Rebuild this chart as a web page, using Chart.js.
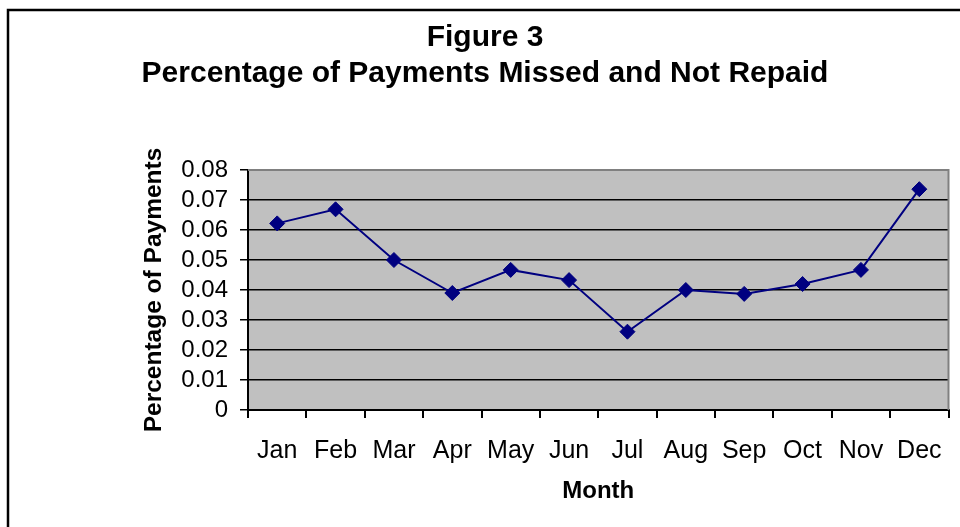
<!DOCTYPE html>
<html>
<head>
<meta charset="utf-8">
<script src="https://cdn.jsdelivr.net/npm/chart.js@4/dist/chart.umd.min.js"></script>
<style>
  html, body { margin: 0; padding: 0; background: #fff; }
  #wrap { width: 960px; height: 527px; }
</style>
</head>
<body>
<div id="wrap"><canvas id="missedChart" width="960" height="527"></canvas></div>
<script>
const months = ['Jan', 'Feb', 'Mar', 'Apr', 'May', 'Jun', 'Jul', 'Aug', 'Sep', 'Oct', 'Nov', 'Dec'];
const missedPct = [0.0622, 0.0669, 0.0500, 0.0390, 0.0467, 0.0433, 0.0261, 0.0400, 0.0387, 0.0420, 0.0467, 0.0736];
const titleLines = ['Figure 3', 'Percentage of Payments Missed and Not Repaid'];
const yTitle = 'Percentage of Payments';
const xTitle = 'Month';

const FONT = "'Liberation Sans', Arial, sans-serif";

// frame, grey plot background and chart title
const framePlugin = {
    id: 'frame',
    beforeDraw(chart) {
        const { ctx, chartArea: a } = chart;
        ctx.save();
        ctx.fillStyle = '#fff';
        ctx.fillRect(0, 0, chart.width, chart.height);
        ctx.fillStyle = '#C0C0C0';
        ctx.fillRect(a.left, a.top, a.right - a.left, a.bottom - a.top);
        ctx.strokeStyle = '#000';
        ctx.lineWidth = 2.5;
        ctx.beginPath();
        ctx.moveTo(8, chart.height);
        ctx.lineTo(8, 10);
        ctx.lineTo(chart.width, 10);
        ctx.stroke();
        ctx.restore();
    },
    afterDraw(chart) {
        const { ctx, chartArea: a } = chart;
        ctx.save();
        ctx.strokeStyle = '#808080';
        ctx.lineWidth = 2;
        ctx.beginPath();
        ctx.moveTo(a.left, a.top);
        ctx.lineTo(a.right, a.top);
        ctx.lineTo(a.right, a.bottom);
        ctx.stroke();
        ctx.fillStyle = '#000';
        ctx.font = 'bold 30px ' + FONT;
        ctx.textAlign = 'center';
        ctx.textBaseline = 'middle';
        ctx.fillText(titleLines[0], 485, 38);
        ctx.fillText(titleLines[1], 485, 74);
        ctx.restore();
    }
};

const ctx = document.getElementById('missedChart').getContext('2d');
new Chart(ctx, {
    type: 'line',
    data: {
        labels: months,
        datasets: [{
            data: missedPct,
            borderColor: '#000080',
            backgroundColor: '#000080',
            borderWidth: 2,
            pointStyle: 'rectRot',
            pointRadius: 7.5,
            pointBorderWidth: 1,
            tension: 0,
            fill: false
        }]
    },
    options: {
        responsive: false,
        animation: false,
        layout: { padding: { left: 130, top: 170, right: 11, bottom: 0 } },
        plugins: {
            legend: { display: false },
            tooltip: { enabled: false }
        },
        scales: {
            x: {
                offset: true,
                grid: { display: true, offset: true, drawOnChartArea: false, drawTicks: true, tickLength: 8, color: '#000', lineWidth: 2 },
                border: { display: true, color: '#000', width: 2 },
                ticks: { color: '#000', font: { family: FONT, size: 25 }, padding: 18, maxRotation: 0, autoSkip: false },
                title: { display: true, text: xTitle, color: '#000', font: { family: FONT, size: 24, weight: 'bold' }, padding: { top: 0, bottom: 21 } },
                afterFit(scale) { scale.height = 117; }
            },
            y: {
                min: 0,
                max: 0.08,
                ticks: {
                    stepSize: 0.01,
                    autoSkip: false,
                    color: '#000',
                    font: { family: FONT, size: 24 },
                    padding: 12,
                    callback: v => v === 0 ? '0' : v.toFixed(2)
                },
                grid: {
                    color: c => (c.tick && c.tick.value >= 0.08) ? '#808080' : '#000',
                    lineWidth: 1.5,
                    tickLength: 8,
                    tickColor: '#000'
                },
                border: { display: true, color: '#000', width: 2 },
                title: { display: true, text: yTitle, color: '#000', font: { family: FONT, size: 24.5, weight: 'bold' }, padding: { top: 10, bottom: 0 } },
                afterFit(scale) { scale.width = 118; }
            }
        }
    },
    plugins: [framePlugin]
});
</script>
</body>
</html>
